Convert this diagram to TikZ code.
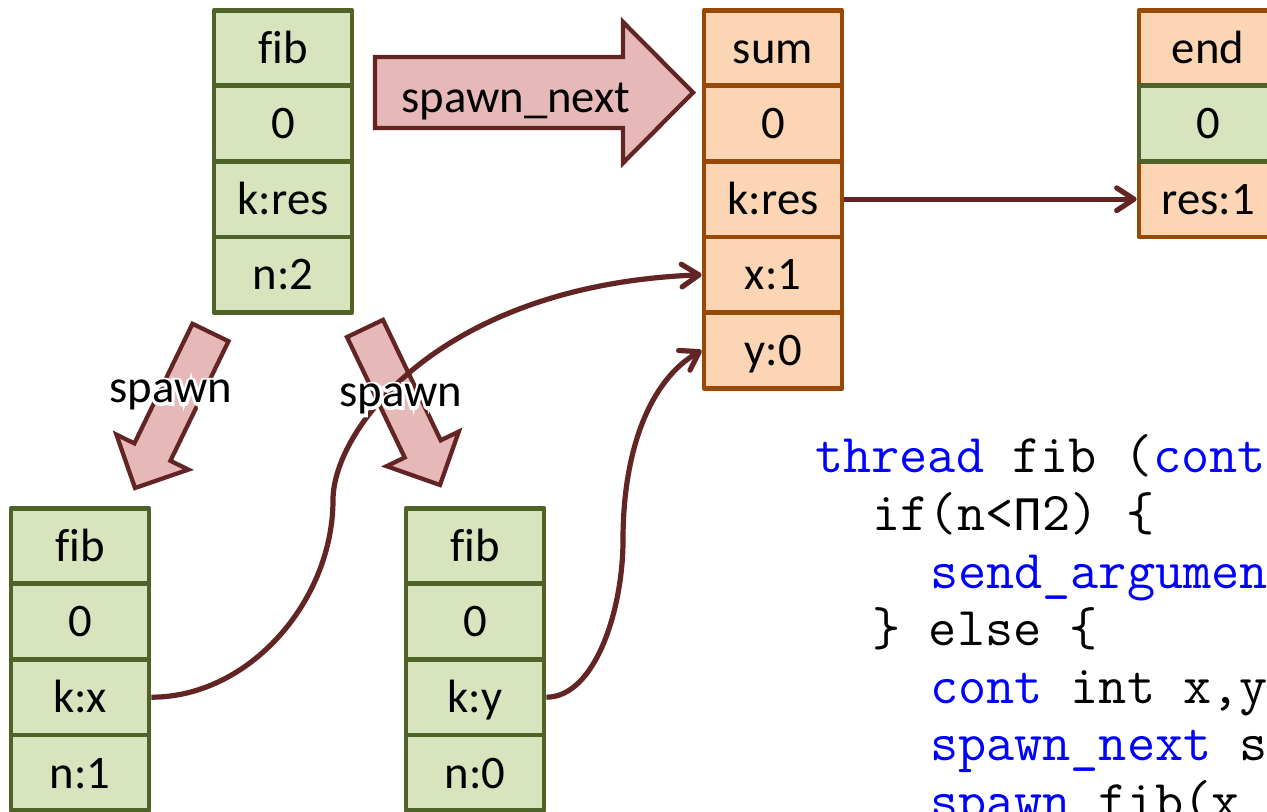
\documentclass[tikz,border=0pt]{standalone}
\usepackage{fontspec}
\setmainfont{Carlito}[Ligatures=NoCommon]
\newfontfamily\halofont{Carlito}[Ligatures=NoCommon,FakeBold=12]
\newfontfamily\cyrmono{Liberation Mono}
\usetikzlibrary{arrows.meta}

\definecolor{cellgreen}{HTML}{D7E4BD}
\definecolor{edgegreen}{HTML}{4F6228}
\definecolor{cellorange}{HTML}{FCD5B5}
\definecolor{edgeorange}{HTML}{984807}
\definecolor{arrowfill}{HTML}{E6B9B8}
\definecolor{darkred}{HTML}{632523}
\definecolor{kwblue}{HTML}{0000FF}

\tikzset{
  cell/.style={draw, line width=3.6pt, line join=round, minimum width=103.5pt,
    minimum height=56.7pt, inner sep=0pt, font=\fontsize{35}{40}\selectfont,
    text height=22.8pt, text depth=0pt},
  gcell/.style={cell, fill=cellgreen, draw=edgegreen},
  ocell/.style={cell, fill=cellorange, draw=edgeorange},
  blockarrow/.style={fill=arrowfill, draw=darkred, line width=3.2pt, line join=miter},
  link/.style={draw=darkred, line width=3.9pt,
    -{Straight Barb[length=13pt,width=17pt,line cap=round,line join=round]}},
  tag/.style={anchor=base, inner sep=0pt, font=\fontsize{35}{40}\selectfont},
  halo/.style={tag, text=white, font=\halofont\fontsize{35}{40}\selectfont},
  codeline/.style={anchor=base west, inner sep=0pt, font=\ttfamily\fontsize{41}{46}\selectfont},
}
\newcommand{\kw}[1]{\textcolor{kwblue}{#1}}

\begin{document}
\begin{tikzpicture}[x=0.75pt,y=-0.75pt]
\useasboundingbox (0,0) rectangle (1267,812);
\clip (0,0) rectangle (1267,812);

% parent frame fib(2)
\node[gcell] (pfib) at (283,48)    {fib};
\node[gcell] (pjc)  at (283,123.6) {0};
\node[gcell] (pk)   at (283,199.2) {k:res};
\node[gcell] (pn)   at (283,274.8) {n:2};

% successor frame sum
\node[ocell] (sname) at (773,48)    {sum};
\node[ocell] (sjc)   at (773,123.6) {0};
\node[ocell] (sk)    at (773,199.2) {k:res};
\node[ocell] (sx)    at (773,274.8) {x:1};
\node[ocell] (sy)    at (773,350.4) {y:0};

% final frame end
\node[ocell] (ename) at (1208,48)    {end};
\node[ocell] (eres)  at (1208,199.2) {res:1};
\node[gcell] (ejc)   at (1208,123.6) {0};

% child frame fib(1)
\node[gcell] (afib) at (80,546)   {fib};
\node[gcell] (ajc)  at (80,621.6) {0};
\node[gcell] (ak)   at (80,697.2) {k:x};
\node[gcell] (an)   at (80,772.8) {n:1};

% child frame fib(0)
\node[gcell] (bfib) at (475,546)   {fib};
\node[gcell] (bjc)  at (475,621.6) {0};
\node[gcell] (bk)   at (475,697.2) {k:y};
\node[gcell] (bn)   at (475,772.8) {n:0};

% block arrows
\draw[blockarrow] (375,57) -- (623,57) -- (623,22) -- (693,92.5) -- (623,163)
  -- (623,128) -- (375,128) -- cycle;
\draw[blockarrow] (192.5,323.8) -- (228.5,341.2) -- (170.4,460.8) -- (188.4,469.6)
  -- (135,488) -- (116.4,434.6) -- (134.4,443.4) -- cycle;
\draw[blockarrow] (347.0,337.1) -- (383.0,319.9) -- (440.7,440.3) -- (458.8,431.6)
  -- (440,485) -- (386.6,466.2) -- (404.7,457.5) -- cycle;
\node[tag] (nextlbl) at (516,113) {spawn\_next};

% continuation links
\coordinate (bendx) at (333,500);
\coordinate (bendy) at (623,540);
\draw[link] (sk.east) -- (eres.west);
\draw[link] (ak.east) .. controls (250,697.2) and (333,600) .. (bendx)
  .. controls (333,430) and (440,285) .. (sx.west);
\draw[link] (bk.east) .. controls (595,697.2) and (623,610) .. (bendy)
  .. controls (623,450) and (650,380) .. (sy.west);

% spawn labels, each over a white halo
\node[halo] (halol) at (171,403) {spawn};
\node[halo] (halor) at (401,407) {spawn};
\node[tag] (spawnl) at (171,403) {spawn};
\node[tag] (spawnr) at (401,407) {spawn};

% code
\node[codeline] (c1) at (815,473)   {\kw{thread} fib (\kw{cont}};
\node[codeline] (c2) at (872.4,530.5) {if(n<{\cyrmono\fontsize{36}{40}\selectfont П}2) \{};
\node[codeline] (c3) at (929.8,588)   {\kw{send\_argumen}};
\node[codeline] (c4) at (872.4,645.5) {\} else \{};
\node[codeline] (c5) at (929.8,703)   {\kw{cont} int x,y};
\node[codeline] (c6) at (929.8,760.5) {\kw{spawn\_next} s};
\node[codeline] (c7) at (929.8,818)   {\kw{spawn} fib(x};
\end{tikzpicture}
\end{document}
